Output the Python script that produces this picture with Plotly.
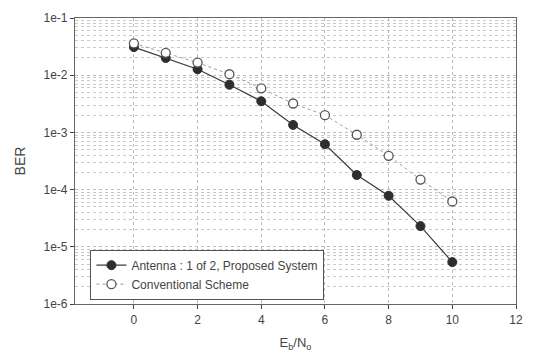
import plotly.graph_objects as go

ebno = [0, 1, 2, 3, 4, 5, 6, 7, 8, 9, 10]
ber_proposed = [0.031, 0.020, 0.0127, 0.0068, 0.0035, 0.00135, 0.00062, 0.00018, 0.000078, 0.000023, 0.0000054]
ber_conventional = [0.036, 0.0246, 0.0166, 0.0104, 0.0059, 0.0032, 0.0020, 0.00091, 0.00039, 0.00015, 0.000062]
y_tickvals = [1e-1, 1e-2, 1e-3, 1e-4, 1e-5, 1e-6]
y_ticktext = ["1e-1", "1e-2", "1e-3", "1e-4", "1e-5", "1e-6"]
x_tickvals = [0, 2, 4, 6, 8, 10, 12]

fig = go.Figure()
fig.add_trace(go.Scatter(
    x=ebno, y=ber_proposed, mode="lines+markers",
    name="Antenna : 1 of 2, Proposed System",
    line=dict(color="#3a3a3a", width=1.2),
    marker=dict(symbol="circle", size=9, color="#2e2e2e", line=dict(color="#2e2e2e", width=1)),
))
fig.add_trace(go.Scatter(
    x=ebno, y=ber_conventional, mode="lines+markers",
    name="Conventional Scheme",
    line=dict(color="#9a9a9a", width=1, dash="dot"),
    marker=dict(symbol="circle", size=9, color="white", line=dict(color="#555555", width=1.3)),
))

fig.update_layout(
    width=534, height=359,
    margin=dict(l=75, r=17, t=11, b=52),
    paper_bgcolor="white", plot_bgcolor="white",
    font=dict(family="Liberation Sans, Arial, sans-serif", size=12, color="#444444"),
    showlegend=True,
    legend=dict(
        x=0.035, y=0.19, xanchor="left", yanchor="top",
        bgcolor="white", bordercolor="#555555", borderwidth=1,
        font=dict(size=12, color="#444444"), tracegroupgap=0,
    ),
)
fig.update_xaxes(
    range=[-1.85, 12], tickvals=x_tickvals, ticks="outside", ticklen=4,
    tickcolor="#444444", showline=True, linecolor="#666666", linewidth=1.2,
    mirror=True, showgrid=True, gridcolor="#bbbbbb", griddash="dot", gridwidth=1,
    zeroline=False,
    title=dict(text="E<sub>b</sub>/N<sub>o</sub>", font=dict(size=13, color="#444444"), standoff=12),
)
fig.update_yaxes(
    type="log", range=[-6, -1], tickvals=y_tickvals, ticktext=y_ticktext,
    ticks="outside", ticklen=4, tickcolor="#444444",
    showline=True, linecolor="#666666", linewidth=1.2, mirror=True,
    showgrid=True, gridcolor="#bbbbbb", griddash="dot", gridwidth=1,
    minor=dict(dtick="D1", showgrid=True, gridcolor="#c8c8c8", griddash="dot", ticks=""),
    title=dict(text="BER", font=dict(size=14, color="#444444"), standoff=14),
)

fig.write_html("out.html")
